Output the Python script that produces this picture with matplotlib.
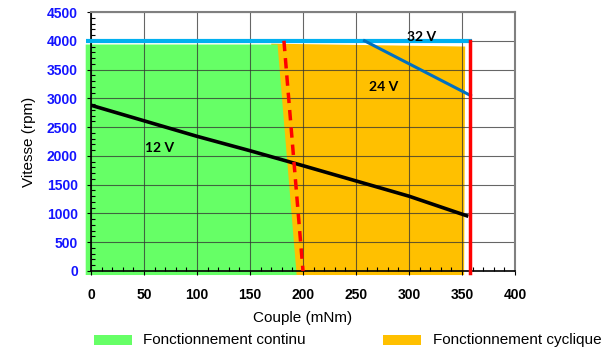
import matplotlib
matplotlib.use("Agg")
import matplotlib.pyplot as plt
from matplotlib.patches import Polygon, Rectangle
from matplotlib.ticker import MultipleLocator

# ---- data ----
torque_12v = [0, 50, 100, 150, 200, 250, 300, 356]
speed_12v = [2880, 2610, 2340, 2090, 1830, 1565, 1300, 950]

torque_24v = [258, 358]
speed_24v = [4000, 3050]

torque_32v = [-5, 359]
speed_32v = [4000, 4000]

limit_cont_torque = [182, 200]
limit_cont_speed = [4000, 0]

limit_max_torque = [357.5, 357.5]
limit_max_speed = [-35, 4000]

zone_continu_x = [-5, 176, 194, -5]
zone_continu_y = [3935, 3935, -70, -70]

zone_cyclique_x = [170, 353, 352, 190]
zone_cyclique_y = [3950, 3900, -70, -70]

labels = [("12 V", 65, 2140), ("24 V", 276, 3195), ("32 V", 312, 4070)]
x_ticks = [0, 50, 100, 150, 200, 250, 300, 350, 400]
y_ticks = [0, 500, 1000, 1500, 2000, 2500, 3000, 3500, 4000, 4500]

plt.rcParams['font.family'] = ['Liberation Sans', 'DejaVu Sans']

fig = plt.figure(figsize=(6.03, 3.51), dpi=100)
ax = fig.add_axes([91/603, 1-271/351, (515-91)/603, (271-12)/351])

green = '#66FF66'
orange = '#FFC000'

ax.add_patch(Polygon(list(zip(zone_continu_x, zone_continu_y)), closed=True,
                     facecolor=green, edgecolor='none', zorder=0.6, clip_on=False))
ax.add_patch(Polygon(list(zip(zone_cyclique_x, zone_cyclique_y)), closed=True,
                     facecolor=orange, edgecolor='none', zorder=0.5, clip_on=False))

ax.plot(torque_12v, speed_12v, color='black', lw=2.6, zorder=3, solid_capstyle='butt')
ax.plot(torque_32v, speed_32v, color='#00B0F0', lw=3, zorder=3, clip_on=False, solid_capstyle='butt')
ax.plot(torque_24v, speed_24v, color='#0070C0', lw=2.2, zorder=3.1)
ax.plot(limit_cont_torque, limit_cont_speed, color='#FF0000', lw=2.5, ls=(0, (3, 2)), zorder=3.2)
ax.plot(limit_max_torque, limit_max_speed, color='#FF0000', lw=2.5, zorder=3.2, clip_on=False)

for txt, x, y in labels:
    ax.text(x, y, txt, ha='center', va='center', fontsize=10, fontweight='bold',
            family=['Lato', 'DejaVu Sans'], zorder=4)

ax.set_xlim(0, 400)
ax.set_ylim(0, 4500)
ax.set_xticks(x_ticks)
ax.set_yticks(y_ticks)
ax.xaxis.set_minor_locator(MultipleLocator(10))
ax.yaxis.set_minor_locator(MultipleLocator(100))
ax.tick_params(which='major', direction='out', length=3, width=0.8)
ax.tick_params(which='minor', direction='in', length=3, width=0.8)
ax.tick_params(axis='y', which='major', labelsize=10, labelcolor='#1414FF', pad=6.5)
ax.tick_params(axis='x', which='major', labelsize=10, labelcolor='black', pad=9)
ax.tick_params(which='minor', top=False, right=False)
for lab in ax.get_xticklabels() + ax.get_yticklabels():
    lab.set_fontweight('bold')

ax.grid(True, which='major', color='#333333', lw=0.8, alpha=0.75)
ax.set_axisbelow('line')

for s in ['left', 'bottom']:
    ax.spines[s].set_color('black')
    ax.spines[s].set_linewidth(1.2)
for s in ['top', 'right']:
    ax.spines[s].set_color('#808080')
    ax.spines[s].set_linewidth(1.5)

ax.set_xlabel('Couple (mNm)', fontsize=11, labelpad=7)
ax.set_ylabel('Vitesse (rpm)', fontsize=11, labelpad=8)

# legend (manual placement)
fig.patches.append(Rectangle((94/603, 1-345/351), 38/603, 10/351, transform=fig.transFigure,
                             facecolor=green, edgecolor='none'))
fig.text(143/603, 1-340/351, 'Fonctionnement continu', fontsize=11, va='center', ha='left')
fig.patches.append(Rectangle((383/603, 1-345/351), 38/603, 10/351, transform=fig.transFigure,
                             facecolor=orange, edgecolor='none'))
fig.text(433/603, 1-340/351, 'Fonctionnement cyclique', fontsize=11, va='center', ha='left')

fig.savefig('out.png', dpi=100)
